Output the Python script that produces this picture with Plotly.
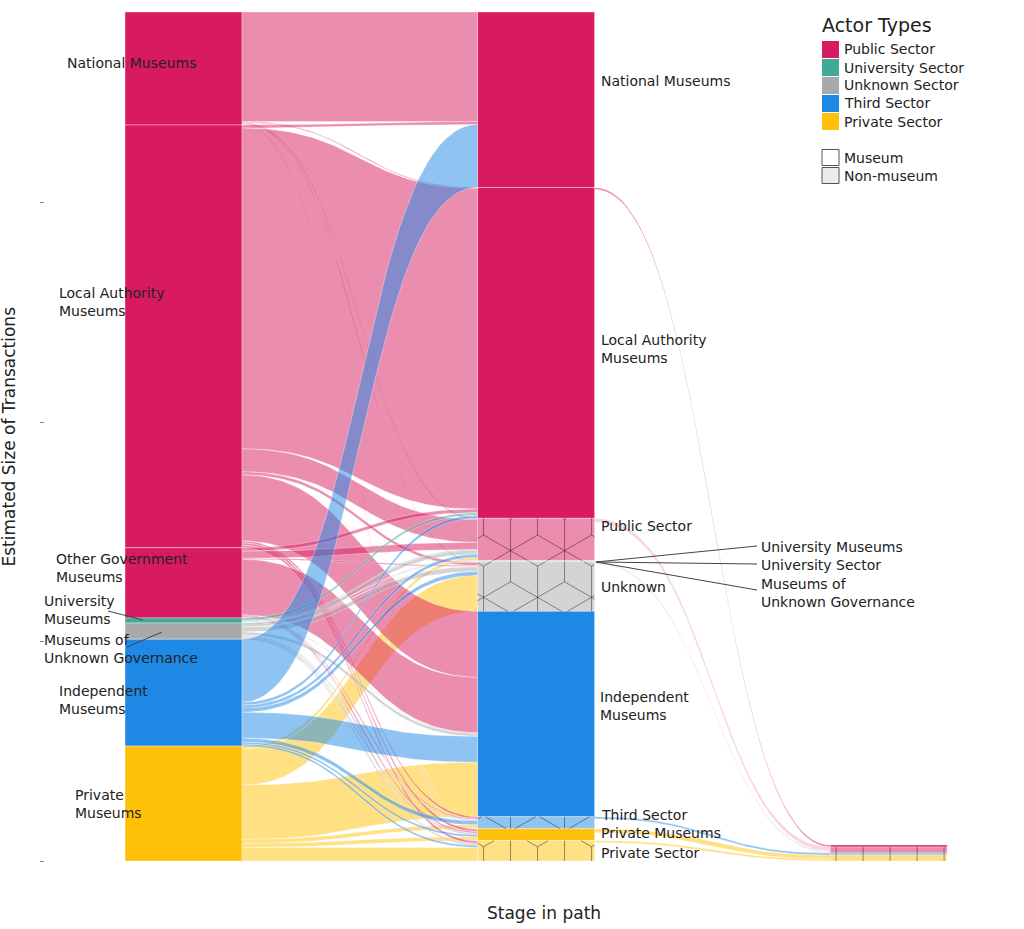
import numpy as np
import plotly.graph_objects as go

# ---------------- data ----------------
stage0_nodes = ["National Museums", "Local Authority Museums", "Other Government Museums",
                "University Museums", "Museums of Unknown Governance", "Independent Museums",
                "Private Museums"]
stage0_sector = ["Public", "Public", "Public", "University", "Unknown", "Third", "Private"]
stage0_museum = [True, True, True, True, True, True, True]

stage1_nodes = ["National Museums", "Local Authority Museums", "Public Sector", "University Museums",
                "University Sector", "Museums of Unknown Governance", "Unknown", "Independent Museums",
                "Third Sector", "Private Museums", "Private Sector"]
stage1_sector = ["Public", "Public", "Public", "University", "University", "Unknown", "Unknown",
                 "Third", "Third", "Private", "Private"]
stage1_museum = [True, True, False, True, False, True, False, True, False, True, False]

stage2_nodes = ["Local Authority Museums", "Public Sector", "Third Sector", "Private Sector"]
stage2_sector = ["Public", "Public", "Third", "Private"]
stage2_museum = [True, False, False, False]

# stage 0 -> stage 1
links01_source = (["National Museums"] * 6 + ["Local Authority Museums"] * 8 +
                  ["Other Government Museums"] * 7 + ["University Museums"] * 6 +
                  ["Museums of Unknown Governance"] * 7 + ["Independent Museums"] * 8 +
                  ["Private Museums"] * 6)
links01_target = [
    "National Museums", "Local Authority Museums", "Public Sector", "Unknown", "Private Museums", "Private Sector",
    "National Museums", "Local Authority Museums", "Public Sector", "Unknown", "Independent Museums",
    "Third Sector", "Private Museums", "Private Sector",
    "Local Authority Museums", "Public Sector", "Unknown", "Independent Museums", "Third Sector",
    "Private Museums", "Private Sector",
    "Local Authority Museums", "Public Sector", "University Museums", "University Sector", "Unknown",
    "Independent Museums",
    "Public Sector", "Museums of Unknown Governance", "Unknown", "Independent Museums", "Third Sector",
    "Private Museums", "Private Sector",
    "National Museums", "Local Authority Museums", "Public Sector", "Unknown", "Independent Museums",
    "Third Sector", "Private Museums", "Private Sector",
    "Public Sector", "Unknown", "Independent Museums", "Third Sector", "Private Museums", "Private Sector",
]
links01_value = [
    499, 4, 5, 3, 2, 2,
    14, 1462, 105, 14, 301, 9, 11, 11,
    16, 32, 5, 253, 5, 7, 2,
    12, 4, 2, 2, 1, 2,
    18, 2, 21, 14, 5, 7, 7,
    287, 14, 14, 18, 118, 18, 9, 9,
    14, 164, 248, 18, 18, 62,
]

# stage 1 -> stage 2
links12_source = ["Local Authority Museums", "Public Sector", "Unknown",
                  "Third Sector", "Private Museums", "Private Sector"]
links12_target = ["Local Authority Museums", "Public Sector", "Public Sector",
                  "Third Sector", "Private Sector", "Private Sector"]
links12_value = [9, 18, 10, 9, 18, 9]

legend_sectors = ["Public", "University", "Unknown", "Third", "Private"]
legend_sector_labels = ["Public Sector", "University Sector", "Unknown Sector", "Third Sector", "Private Sector"]
legend_type_labels = ["Museum", "Non-museum"]

# ---------------- styles / geometry ----------------
SECTOR_RGB = {"Public": (216, 27, 96), "University": (64, 170, 150), "Unknown": (169, 169, 169),
              "Third": (30, 136, 229), "Private": (255, 193, 7)}
FONT = "DejaVu Sans"
TXT = "#222222"
PL, PR, PT, PB = 45, 1024, 12, 861          # plot area in pixels
PW, PH = PR - PL, PB - PT
XR = (-0.393, 2.384)                         # x range in stage units
HW = 0.166                                   # half node width (stage units)


def rgb(c, a=None):
    return "rgb(%d,%d,%d)" % c if a is None else "rgba(%d,%d,%d,%.3f)" % (c + (a,))


def light(c):
    return tuple(int(round(0.5 * v + 0.5 * 255)) for v in c)


stage_nodes = [stage0_nodes, stage1_nodes, stage2_nodes]
stage_sector = [stage0_sector, stage1_sector, stage2_sector]
stage_museum = [stage0_museum, stage1_museum, stage2_museum]

links = []
for s, t, v in zip(links01_source, links01_target, links01_value):
    links.append([0, stage0_nodes.index(s), stage1_nodes.index(t), v])
for s, t, v in zip(links12_source, links12_target, links12_value):
    links.append([1, stage1_nodes.index(s), stage2_nodes.index(t), v])

# node sizes and positions (stacked down from column total, bottom at 0)
node_val, node_top, node_bot = {}, {}, {}
col_total = []
for st, nodes in enumerate(stage_nodes):
    tot = 0
    for i in range(len(nodes)):
        out = sum(l[3] for l in links if l[0] == st and l[1] == i)
        inn = sum(l[3] for l in links if l[0] == st - 1 and l[2] == i)
        node_val[(st, i)] = max(out, inn)
        tot += node_val[(st, i)]
    col_total.append(tot)
    top = tot
    for i in range(len(nodes)):
        node_top[(st, i)] = top
        top -= node_val[(st, i)]
        node_bot[(st, i)] = top
YMAX = max(col_total)

# link end positions
pos = {}
for st, nodes in enumerate(stage_nodes):
    for i in range(len(nodes)):
        outs = sorted([k for k, l in enumerate(links) if l[0] == st and l[1] == i], key=lambda k: links[k][2])
        p = node_top[(st, i)]
        for k in outs:
            pos.setdefault(k, {})["s"] = (p, p - links[k][3])
            p -= links[k][3]
        ins = sorted([k for k, l in enumerate(links) if l[0] == st - 1 and l[2] == i], key=lambda k: links[k][1])
        p = node_top[(st, i)]
        for k in ins:
            pos.setdefault(k, {})["t"] = (p, p - links[k][3])
            p -= links[k][3]


def px_x(x):
    return PL + (x - XR[0]) / (XR[1] - XR[0]) * PW


def x_px(p):
    return XR[0] + (p - PL) / PW * (XR[1] - XR[0])


def px_y(y):
    return PB - y / YMAX * PH


def y_px(p):
    return (PB - p) / PH * YMAX


fig = go.Figure()

# ---------------- links ----------------
draw_rank = {"Private": 0, "Public": 1, "University": 2, "Unknown": 3, "Third": 4}
order = sorted(range(len(links)), key=lambda k: (links[k][0], draw_rank[stage_sector[links[k][0]][links[k][1]]], k))
t = np.linspace(0, 1, 60)
for k in order:
    st, a, b, v = links[k]
    x0, x1 = st + HW, st + 1 - HW
    xm = (x0 + x1) / 2
    (s_top, s_bot), (t_top, t_bot) = pos[k]["s"], pos[k]["t"]
    bx = (1 - t) ** 3 * x0 + 3 * (1 - t) ** 2 * t * xm + 3 * (1 - t) * t ** 2 * xm + t ** 3 * x1
    h = 3 * t ** 2 - 2 * t ** 3
    top = s_top + (t_top - s_top) * h
    bot = s_bot + (t_bot - s_bot) * h
    xs = np.concatenate([bx, bx[::-1], bx[:1]])
    ys = np.concatenate([top, bot[::-1], top[:1]])
    col = SECTOR_RGB[stage_sector[st][a]]
    faint = st == 1 and stage_sector[st][a] in ("Public", "Unknown") and not stage_museum[st][a]
    alpha = 0.18 if faint else 0.5
    fig.add_trace(go.Scatter(x=xs, y=ys, mode="lines", fill="toself",
                             fillcolor=rgb(col, alpha),
                             line=dict(color="rgba(255,255,255,%.2f)" % (0.2 if faint else 0.55), width=0.6),
                             hoverinfo="skip", showlegend=False))

# ---------------- nodes ----------------
bx_, by_, bb_, bc_ = [], [], [], []
for st, nodes in enumerate(stage_nodes):
    for i in range(len(nodes)):
        c = SECTOR_RGB[stage_sector[st][i]]
        bx_.append(st)
        by_.append(node_val[(st, i)])
        bb_.append(node_bot[(st, i)])
        bc_.append(rgb(c) if stage_museum[st][i] else rgb(light(c)))
fig.add_trace(go.Bar(x=bx_, y=by_, base=bb_, width=2 * HW,
                     marker=dict(color=bc_, line=dict(color="rgba(255,255,255,0.6)", width=0.6)),
                     hoverinfo="skip", showlegend=False))


# ---------------- hatch (cube pattern) for non-museum nodes ----------------
def clip(x0, y0, x1, y1, L, T, R, B):
    dx, dy = x1 - x0, y1 - y0
    t0, t1 = 0.0, 1.0
    for p, q in ((-dx, x0 - L), (dx, R - x0), (-dy, y0 - T), (dy, B - y0)):
        if p == 0:
            if q < 0:
                return None
        else:
            r = q / p
            if p < 0:
                if r > t1:
                    return None
                t0 = max(t0, r)
            else:
                if r < t0:
                    return None
                t1 = min(t1, r)
    if t1 - t0 < 1e-9:
        return None
    return (x0 + t0 * dx, y0 + t0 * dy, x0 + t1 * dx, y0 + t1 * dy)


def cube_pattern(L, T, R, B, h, ox, oy):
    a = 2 * h / np.sqrt(3)
    segs = []
    kmin = int(np.floor((L - ox) / h)) - 2
    kmax = int(np.ceil((R - ox) / h)) + 2
    for k in range(kmin, kmax + 1):
        x = ox + k * h
        jmin = int(np.floor((T - oy) / a - k / 2)) - 2
        jmax = int(np.ceil((B - oy) / a - k / 2)) + 2
        for j in range(jmin, jmax + 1):
            y = oy + (j + k / 2) * a
            c = (j - k) % 3
            for dk, dj in ((0, 1), (1, 0), (1, -1)):
                k2, j2 = k + dk, j + dj
                c2 = (j2 - k2) % 3
                if {c, c2} == {0, 2}:
                    continue
                seg = clip(x, y, ox + k2 * h, oy + (j2 + k2 / 2) * a, L, T, R, B)
                if seg:
                    segs.append(seg)
    return segs


hx, hy = [], []
for st, nodes in enumerate(stage_nodes):
    for i in range(len(nodes)):
        if stage_museum[st][i]:
            continue
        L, R = px_x(st - HW), px_x(st + HW)
        T, B = px_y(node_top[(st, i)]), px_y(node_bot[(st, i)])
        for x0, y0, x1, y1 in cube_pattern(L, T, R, B, 27, L + 6, 5):
            hx += [x_px(x0), x_px(x1), None]
            hy += [y_px(y0), y_px(y1), None]
fig.add_trace(go.Scatter(x=hx, y=hy, mode="lines", line=dict(color="rgba(0,0,0,0.4)", width=1),
                         hoverinfo="skip", showlegend=False))

# ---------------- labels ----------------
annots = []


def label(text, px, py, size=14, anchor="left"):
    annots.append(dict(x=(px - PL) / PW, y=(PB - py) / PH, xref="paper", yref="paper", text=text,
                       showarrow=False, xanchor=anchor, yanchor="middle", align="left",
                       font=dict(family=FONT, size=size, color=TXT)))


left_labels = [("National Museums", 65, 63), ("Local Authority<br>Museums", 57, 302),
               ("Other Government<br>Museums", 54, 568), ("University<br>Museums", 42, 610),
               ("Museums of<br>Unknown Governance", 42, 649), ("Independent<br>Museums", 57, 700),
               ("Private<br>Museums", 73, 804)]
mid_labels = [("National Museums", 599, 81), ("Local Authority<br>Museums", 599, 349),
              ("Public Sector", 599, 526), ("Unknown", 599, 587), ("Independent<br>Museums", 598, 706),
              ("Third Sector", 599, 815), ("Private Museums", 599, 833), ("Private Sector", 599, 853),
              ("University Museums", 759, 547), ("University Sector", 759, 565),
              ("Museums of<br>Unknown Governance", 759, 593)]
for txt, px, py in left_labels + mid_labels:
    label(txt, px, py)

leaders = [((108, 611), (143, 620)), ((127, 647), (162, 632)),
           ((596, 562), (757, 546)), ((596, 562), (757, 564)), ((596, 562), (757, 590))]
shapes = []
for (xa, ya), (xb, yb) in leaders:
    shapes.append(dict(type="line", xref="x", yref="y", x0=x_px(xa), y0=y_px(ya), x1=x_px(xb), y1=y_px(yb),
                       line=dict(color="#444444", width=1)))

# ---------------- manual legend ----------------
label("Actor Types", 820, 25, size=19)
for r, (sec, name) in enumerate(zip(legend_sectors, legend_sector_labels)):
    cy = 49.5 + 18 * r
    shapes.append(dict(type="rect", xref="x", yref="y", x0=x_px(822), x1=x_px(839),
                       y0=y_px(cy - 8.5), y1=y_px(cy + 8.5), fillcolor=rgb(SECTOR_RGB[sec]),
                       line=dict(width=0)))
    label(name, 842, cy)
for r, name in enumerate(legend_type_labels):
    cy = 157.5 + 18 * r
    shapes.append(dict(type="rect", xref="x", yref="y", x0=x_px(822), x1=x_px(839),
                       y0=y_px(cy - 8), y1=y_px(cy + 8), fillcolor="white" if r == 0 else "rgb(235,235,235)",
                       line=dict(color="#555555", width=1)))
    label(name, 842, cy)
    if r == 1:
        lx, ly = [], []
        for x0, y0, x1, y1 in cube_pattern(822.5, cy - 7.5, 838.5, cy + 7.5, 6, 824, cy):
            lx += [x_px(x0), x_px(x1), None]
            ly += [y_px(y0), y_px(y1), None]
        fig.add_trace(go.Scatter(x=lx, y=ly, mode="lines", line=dict(color="rgba(0,0,0,0.35)", width=0.8),
                                 hoverinfo="skip", showlegend=False))

# axis titles
annots.append(dict(x=(8 - PL) / PW, y=0.5, xref="paper", yref="paper", text="Estimated Size of Transactions",
                   textangle=-90, showarrow=False, xanchor="center", yanchor="middle",
                   font=dict(family=FONT, size=17, color=TXT)))
annots.append(dict(x=(544 - PL) / PW, y=(PB - 913) / PH, xref="paper", yref="paper", text="Stage in path",
                   showarrow=False, xanchor="center", yanchor="middle",
                   font=dict(family=FONT, size=17, color=TXT)))

fig.update_layout(
    width=1024, height=929,
    margin=dict(l=PL, r=1024 - PR, t=PT, b=929 - PB),
    paper_bgcolor="white", plot_bgcolor="white",
    barmode="overlay", showlegend=False,
    font=dict(family=FONT, color=TXT),
    annotations=annots, shapes=shapes,
    xaxis=dict(range=list(XR), visible=False, fixedrange=True),
    yaxis=dict(range=[0, YMAX], showgrid=False, zeroline=False, showline=False,
               tickvals=[0, 1000, 2000, 3000], ticks="outside", ticklen=4, tickcolor="#888888",
               showticklabels=False, fixedrange=True),
)

fig.write_html("out.html")
